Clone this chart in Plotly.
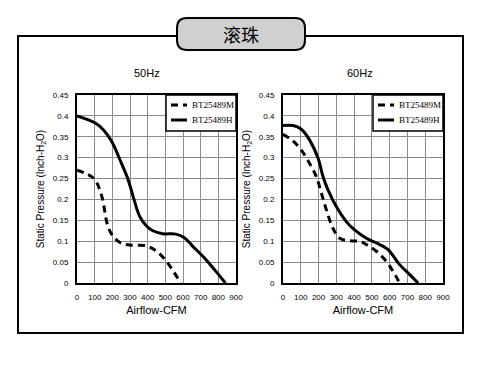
import plotly.graph_objects as go

# ---- data ----
x50_m = [0, 50, 100, 140, 172, 196, 243, 298, 392, 448, 504, 550, 588]
y50_m = [0.27, 0.262, 0.248, 0.208, 0.14, 0.117, 0.097, 0.091, 0.089, 0.077, 0.053, 0.025, 0.0]
x50_h = [0, 103, 149, 196, 243, 289, 317, 354, 392, 429, 485, 560, 606, 653, 728, 784, 840]
y50_h = [0.40, 0.383, 0.367, 0.339, 0.295, 0.248, 0.208, 0.16, 0.137, 0.125, 0.118, 0.117, 0.109, 0.089, 0.057, 0.029, 0.0]
x60_m = [0, 56, 103, 150, 188, 216, 244, 281, 319, 375, 431, 469, 525, 581, 619, 656]
y60_m = [0.356, 0.34, 0.318, 0.286, 0.254, 0.215, 0.175, 0.131, 0.107, 0.101, 0.1, 0.092, 0.076, 0.052, 0.028, 0.0]
x60_h = [0, 56, 103, 150, 197, 225, 253, 300, 356, 403, 469, 544, 591, 656, 713, 760]
y60_h = [0.377, 0.377, 0.368, 0.342, 0.299, 0.255, 0.223, 0.183, 0.147, 0.127, 0.107, 0.092, 0.08, 0.044, 0.02, 0.0]

names = ["BT25489M", "BT25489H"]
x_ticks = [0, 100, 200, 300, 400, 500, 600, 700, 800, 900]
y_ticks = [0, 0.05, 0.1, 0.15, 0.2, 0.25, 0.3, 0.35, 0.4, 0.45]
panel_titles = ["50Hz", "60Hz"]
main_title = "滚珠"

OFF = 8  # page body margin
W, H = 497 - OFF, 365 - OFF
def px(x):
    return (x - OFF) / W
def py(y):
    return (H - (y - OFF)) / H

fig = go.Figure()
dash_style = "7px,5px"
fig.add_trace(go.Scatter(x=x50_m, y=y50_m, name=names[0], mode="lines",
                         line=dict(color="black", width=3, dash=dash_style, shape="spline"),
                         xaxis="x", yaxis="y", showlegend=False))
fig.add_trace(go.Scatter(x=x50_h, y=y50_h, name=names[1], mode="lines",
                         line=dict(color="black", width=3, shape="spline"),
                         xaxis="x", yaxis="y", showlegend=False))
fig.add_trace(go.Scatter(x=x60_m, y=y60_m, name=names[0], mode="lines",
                         line=dict(color="black", width=3, dash=dash_style, shape="spline"),
                         xaxis="x2", yaxis="y2", showlegend=False))
fig.add_trace(go.Scatter(x=x60_h, y=y60_h, name=names[1], mode="lines",
                         line=dict(color="black", width=3, shape="spline"),
                         xaxis="x2", yaxis="y2", showlegend=False))

tickfont = dict(family="Liberation Sans, Arial", size=8, color="black")
def xax(domain, anchor):
    return dict(domain=domain, anchor=anchor, range=[0, 900], tickvals=x_ticks,
                showgrid=True, gridcolor="#8c8c8c", gridwidth=1, zeroline=False,
                showline=True, linecolor="black", linewidth=2, mirror=True,
                ticks="", tickfont=tickfont, ticklabelstandoff=5, automargin=False,
                title=dict(text="Airflow-CFM", font=dict(family="Liberation Sans, Arial", size=11, color="black"), standoff=6))
def yax(domain, anchor):
    return dict(domain=domain, anchor=anchor, range=[0, 0.45], tickvals=y_ticks,
                showgrid=True, gridcolor="#8c8c8c", gridwidth=1, zeroline=False,
                showline=True, linecolor="black", linewidth=2, mirror=True,
                ticks="", tickfont=tickfont, ticklabelstandoff=5, automargin=False,
                title=dict(text="Static Pressure (Inch-H<sub>2</sub>O)", font=dict(family="Liberation Sans, Arial", size=10, color="black"), standoff=6))

ydom = [py(283), py(95)]

fig.update_layout(
    width=W, height=H, margin=dict(l=0, r=0, t=0, b=0),
    paper_bgcolor="white", plot_bgcolor="white",
    xaxis=xax([px(77), px(236)], "y"), yaxis=yax(ydom, "x"),
    xaxis2=xax([px(283), px(443)], "y2"), yaxis2=yax(ydom, "x2"),
    showlegend=False,
)

# legend boxes drawn per panel (key, not data)
legfont = dict(family="Liberation Serif, Times New Roman", size=9, color="black")
for right in [236, 443]:
    left = right - 70
    fig.add_shape(type="rect", xref="paper", yref="paper",
                  x0=px(left), x1=px(right), y0=py(131), y1=py(95),
                  line=dict(color="black", width=1.5), fillcolor="white", layer="above")
    for i, (nm, dsh) in enumerate(zip(names, [dash_style, "solid"])):
        yy = 105 + i * 15
        fig.add_shape(type="line", xref="paper", yref="paper",
                      x0=px(left + 5), x1=px(left + 21), y0=py(yy), y1=py(yy),
                      line=dict(color="black", width=3, dash=dsh), layer="above")
        fig.add_annotation(text=nm, x=px(left + 24), y=py(yy), xref="paper", yref="paper",
                           showarrow=False, xanchor="left", yanchor="middle",
                           font=legfont)

# outer frame with gap for title box
fx = lambda v: px(v)
fy = lambda v: py(v)
frame = (f"M {fx(177)},{fy(36)} L {fx(18)},{fy(36)} L {fx(18)},{fy(333)} "
         f"L {fx(463)},{fy(333)} L {fx(463)},{fy(36)} L {fx(305)},{fy(36)}")
fig.add_shape(type="path", path=frame, xref="paper", yref="paper",
              line=dict(color="black", width=2))

# rounded title box
x0, x1, y0, y1, r = 177, 305, 18, 50, 10
p = (f"M {fx(x0+r)},{fy(y0)} L {fx(x1-r)},{fy(y0)} Q {fx(x1)},{fy(y0)} {fx(x1)},{fy(y0+r)} "
     f"L {fx(x1)},{fy(y1-r)} Q {fx(x1)},{fy(y1)} {fx(x1-r)},{fy(y1)} "
     f"L {fx(x0+r)},{fy(y1)} Q {fx(x0)},{fy(y1)} {fx(x0)},{fy(y1-r)} "
     f"L {fx(x0)},{fy(y0+r)} Q {fx(x0)},{fy(y0)} {fx(x0+r)},{fy(y0)} Z")
fig.add_shape(type="path", path=p, xref="paper", yref="paper",
              line=dict(color="black", width=2), fillcolor="#d0d0d0")
fig.add_annotation(text=main_title, x=px(241), y=py(34), xref="paper", yref="paper",
                   showarrow=False, xanchor="center", yanchor="middle",
                   font=dict(family="Noto Sans CJK SC", size=18, color="black"))

for t, xc in zip(panel_titles, [147, 360]):
    fig.add_annotation(text=t, x=px(xc), y=py(73), xref="paper", yref="paper",
                       showarrow=False, xanchor="center", yanchor="middle",
                       font=dict(family="Liberation Sans, Arial", size=11, color="black"))

fig.write_html("out.html")
